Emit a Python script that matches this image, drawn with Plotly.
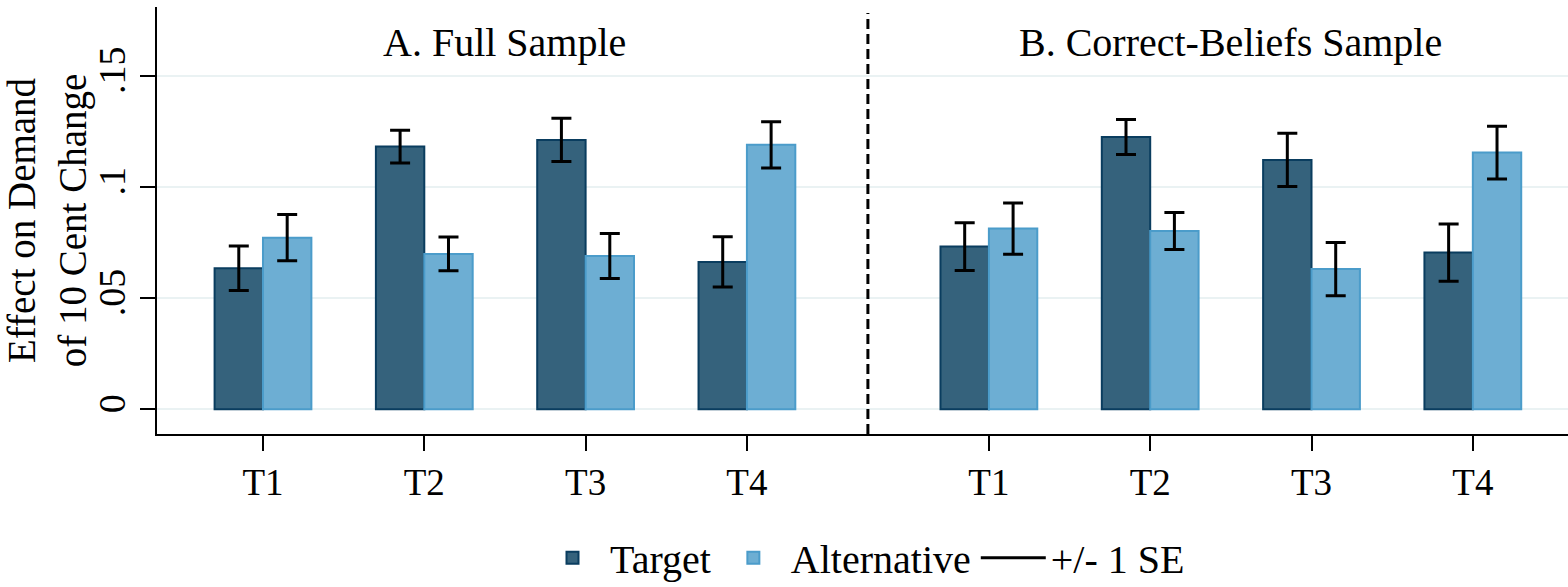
import plotly.graph_objects as go

# ---- data ----
categories = ["T1", "T2", "T3", "T4"]
panels = ["A. Full Sample", "B. Correct-Beliefs Sample"]
# positions of category groups on the numeric x axis (panel A, panel B)
pos_a = [1, 2, 3, 4]
pos_b = [5.5, 6.5, 7.5, 8.5]

target_a = [0.0635, 0.1182, 0.1212, 0.0663]
target_a_se = [0.0100, 0.0074, 0.0097, 0.0113]
alt_a = [0.0772, 0.0699, 0.0690, 0.1190]
alt_a_se = [0.0104, 0.0076, 0.0101, 0.0104]

target_b = [0.0732, 0.1225, 0.1122, 0.0705]
target_b_se = [0.0107, 0.0079, 0.0120, 0.0129]
alt_b = [0.0813, 0.0802, 0.0631, 0.1155]
alt_b_se = [0.0115, 0.0083, 0.0120, 0.0119]

y_ticks = [0, 0.05, 0.10, 0.15]
y_ticktext = ["0", ".05", ".1", ".15"]

FONT = "Times New Roman, Liberation Serif, serif"
C_T_FILL, C_T_EDGE = "#35627c", "#0a3d5f"
C_A_FILL, C_A_EDGE = "#6daed3", "#4b9cca"

x_all = pos_a + pos_b
target_all = target_a + target_b
target_se = target_a_se + target_b_se
alt_all = alt_a + alt_b
alt_se = alt_a_se + alt_b_se

err_style = dict(type="data", color="black", thickness=3, width=10)

fig = go.Figure()
fig.add_trace(go.Bar(
    x=x_all, y=target_all, name="Target",
    marker=dict(color=C_T_FILL, line=dict(color=C_T_EDGE, width=2)),
    error_y=dict(array=target_se, **err_style),
))
fig.add_trace(go.Bar(
    x=x_all, y=alt_all, name="Alternative",
    marker=dict(color=C_A_FILL, line=dict(color=C_A_EDGE, width=2)),
    error_y=dict(array=alt_se, **err_style),
))
# legend proxy for the error bars
fig.add_trace(go.Scatter(
    x=[None], y=[None], mode="lines", name="+/- 1 SE",
    line=dict(color="black", width=3),
))

# panel separator
sep_x = (pos_a[-1] + pos_b[0]) / 2
fig.add_shape(type="line", xref="x", yref="paper", x0=sep_x, x1=sep_x,
              y0=0, y1=0.986, line=dict(color="black", width=3, dash="10px,5px"))

# panel titles
fig.add_annotation(x=sum(pos_a) / 4, y=0.165, xref="x", yref="y", text=panels[0],
                   showarrow=False, font=dict(size=40, color="black", family=FONT))
fig.add_annotation(x=sum(pos_b) / 4, y=0.165, xref="x", yref="y", text=panels[1],
                   showarrow=False, font=dict(size=40, color="black", family=FONT))

fig.update_layout(
    width=1568, height=587,
    margin=dict(l=157, r=0, t=7, b=153),
    paper_bgcolor="white", plot_bgcolor="white",
    font=dict(family=FONT, size=38, color="black"),
    barmode="group", bargap=0.4, bargroupgap=0,
    showlegend=True,
    legend=dict(orientation="h", x=0.5, xanchor="center",
                yref="container", y=0.05, yanchor="middle",
                font=dict(size=40), itemwidth=65, traceorder="normal"),
    xaxis=dict(
        range=[0.343, 9.09], tickvals=x_all, ticktext=categories + categories,
        showline=True, linecolor="black", linewidth=2,
        ticks="outside", ticklen=15, tickwidth=2, tickcolor="black",
        showgrid=False, zeroline=False, tickfont=dict(size=37),
    ),
    yaxis=dict(
        range=[-0.0111, 0.181], tickvals=y_ticks, ticktext=y_ticktext,
        tickangle=-90, showline=True, linecolor="black", linewidth=2,
        ticks="outside", ticklen=15, tickwidth=2, tickcolor="black",
        showgrid=True, gridcolor="#eaf2f3", gridwidth=2, zeroline=False,
        tickfont=dict(size=38),
        title=dict(text="Effect on Demand<br>of 10 Cent Change", font=dict(size=39), standoff=10),
        automargin=False,
    ),
)

fig.write_html("out.html", config={"displayModeBar": False},
               post_script="document.body.style.margin='0';")
